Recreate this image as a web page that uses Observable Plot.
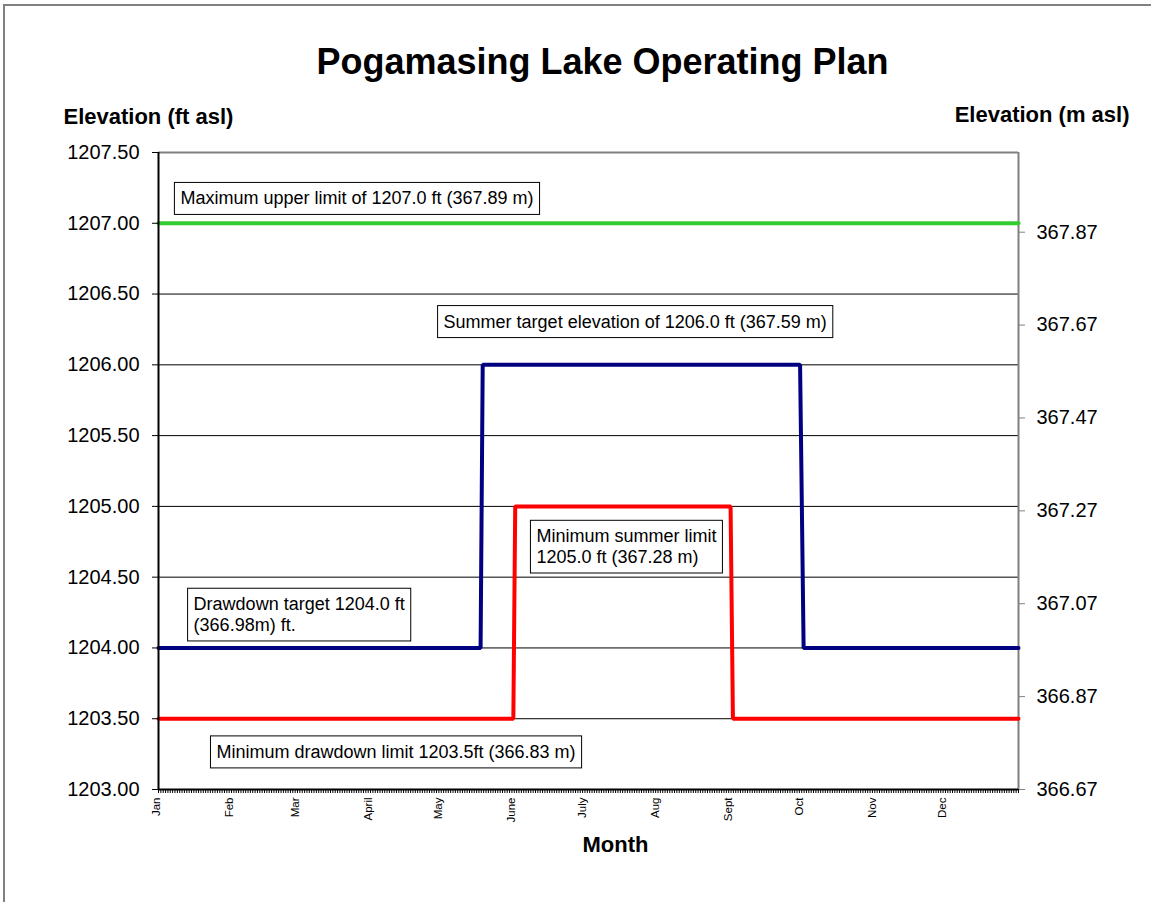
<!DOCTYPE html>
<html>
<head>
<meta charset="utf-8">
<script src="https://cdn.jsdelivr.net/npm/d3@7"></script>
<script src="https://cdn.jsdelivr.net/npm/@observablehq/plot@0.6"></script>
<style>
  body { margin: 0; background: #fff; font-family: "Liberation Sans", Arial, sans-serif; }
  #wrap { position: relative; width: 1151px; height: 902px; overflow: hidden; background: #fff; }
  #border { position: absolute; left: 3px; top: 4px; width: 1300px; height: 1100px;
            border-left: 2px solid #808080; border-top: 2px solid #808080; }
  #wrap svg { position: absolute; left: 0; top: 0; }
</style>
</head>
<body>
<div id="wrap"><div id="border"></div></div>
<script>
// ---------- data ----------
const titleText = "Pogamasing Lake Operating Plan";
const leftAxisTitle = "Elevation (ft asl)";
const rightAxisTitle = "Elevation (m asl)";
const xAxisTitle = "Month";

const months = ["Jan","Feb","Mar","April","May","June","July","Aug","Sept","Oct","Nov","Dec"];
const monthStartDays = [0, 31, 59, 90, 120, 151, 181, 212, 243, 273, 304, 334];

const leftTicks = [1203.0, 1203.5, 1204.0, 1204.5, 1205.0, 1205.5, 1206.0, 1206.5, 1207.0, 1207.5];
const rightTickLabels = ["366.67", "366.87", "367.07", "367.27", "367.47", "367.67", "367.87"];

// Maximum upper limit (green)
const upperDays = [0, 365];
const upperVals = [1207.0, 1207.0];
// Summer target / drawdown target (navy)
const targetDays = [0, 136.7, 137.6, 272.3, 273.8, 365];
const targetVals = [1204.0, 1204.0, 1206.0, 1206.0, 1204.0, 1204.0];
// Minimum limits (red)
const minDays = [0, 150.6, 151.4, 242.8, 243.8, 365];
const minVals = [1203.5, 1203.5, 1205.0, 1205.0, 1203.5, 1203.5];

// annotation boxes
const noteTexts = [
  "Maximum upper limit of 1207.0 ft (367.89 m)",
  "Summer target elevation of 1206.0 ft (367.59 m)",
  "Minimum summer limit\n1205.0 ft (367.28 m)",
  "Drawdown target 1204.0 ft\n(366.98m) ft.",
  "Minimum drawdown limit 1203.5ft (366.83 m)"
];
const noteDays = [9.3, 121.0, 160.4, 14.9, 24.6];
const noteElev = [1207.18, 1206.31, 1204.72, 1204.24, 1203.27];

// ---------- derived tables ----------
const monthRows = months.map((m, i) => ({label: m, day: monthStartDays[i]}));
const rightTickFt = rightTickLabels.map(s => 1203 + (+s - 366.67) / 0.3048);
const notes = noteTexts.map((t, i) => ({text: t, day: noteDays[i], elev: noteElev[i]}));
const dayTicks = d3.range(0, 366);

const FONT = "Liberation Sans, Arial, sans-serif";

const chart = Plot.plot({
  width: 1151,
  height: 902,
  marginLeft: 158,
  marginRight: 133,
  marginTop: 152,
  marginBottom: 113,
  style: {fontFamily: FONT, background: "transparent", overflow: "visible", color: "#000"},
  x: {domain: [0, 365]},
  y: {domain: [1203, 1207.5]},
  marks: [
    // gridlines
    Plot.ruleY(leftTicks.slice(1, -1), {stroke: "#000", strokeWidth: 1}),
    // frame top/right (gray)
    Plot.ruleY([1207.5], {stroke: "#808080", strokeWidth: 2}),
    Plot.ruleX([365], {stroke: "#808080", strokeWidth: 2}),
    // series
    Plot.line(upperDays, {x: d => d, y: (d, i) => upperVals[i], stroke: "#33CC33", strokeWidth: 4}),
    Plot.line(minDays, {x: d => d, y: (d, i) => minVals[i], stroke: "#FF0000", strokeWidth: 4, strokeLinejoin: "miter"}),
    Plot.line(targetDays, {x: d => d, y: (d, i) => targetVals[i], stroke: "#000080", strokeWidth: 4, strokeLinejoin: "miter"}),
    // left & bottom axis lines
    Plot.ruleX([0], {stroke: "#000", strokeWidth: 2}),
    Plot.ruleY([1203], {stroke: "#000", strokeWidth: 2}),
    // left axis
    Plot.axisY(leftTicks, {anchor: "left", tickSize: 6, tickPadding: 13, fontSize: 20,
      tickFormat: d => d.toFixed(2), label: null, stroke: "#000"}),
    // right axis (metres)
    Plot.axisY(rightTickFt, {anchor: "right", tickSize: 6, tickPadding: 12, fontSize: 20,
      tickFormat: d => rightTickLabels[rightTickFt.indexOf(d)], label: null, stroke: "#808080", fill: "#000"}),
    // daily minor ticks on x axis
    Plot.axisX(dayTicks, {anchor: "bottom", tickSize: 4, tickFormat: () => "", label: null, stroke: "#000"}),
    // month labels
    Plot.text(monthRows, {x: "day", text: "label", frameAnchor: "bottom", rotate: -90,
      textAnchor: "end", dy: 8, dx: 1, fontSize: 11.5}),
    // annotations
    Plot.text(notes, {x: "day", y: "elev", text: "text", textAnchor: "start", lineAnchor: "middle",
      fontSize: 18, lineHeight: 1.15}),
    // titles
    Plot.text([titleText], {frameAnchor: "top", dx: 14, dy: -104, fontSize: 36, fontWeight: "bold"}),
    Plot.text([leftAxisTitle], {frameAnchor: "top-left", dx: -95, dy: -44, textAnchor: "start", fontSize: 22, fontWeight: "bold"}),
    Plot.text([rightAxisTitle], {frameAnchor: "top-right", dx: 111, dy: -46, textAnchor: "end", fontSize: 22, fontWeight: "bold"}),
    Plot.text([xAxisTitle], {frameAnchor: "bottom", dx: 27, dy: 62, fontSize: 22, fontWeight: "bold"})
  ]
});

document.getElementById("wrap").appendChild(chart);

// boxes behind annotation texts
const padX = 6, padY = 6;
const firstLines = noteTexts.map(t => t.split("\n")[0]);
chart.querySelectorAll("text").forEach(function(el) {
  const first = el.querySelector("tspan") ? el.querySelector("tspan").textContent : el.textContent;
  if (!firstLines.includes(first) && !firstLines.some(f => el.textContent.startsWith(f))) return;
  const bb = el.getBBox();
  const r = document.createElementNS("http://www.w3.org/2000/svg", "rect");
  r.setAttribute("x", bb.x - padX);
  r.setAttribute("y", bb.y - padY);
  r.setAttribute("width", bb.width + 2 * padX);
  r.setAttribute("height", bb.height + 2 * padY);
  r.setAttribute("fill", "#fff");
  r.setAttribute("stroke", "#000");
  r.setAttribute("stroke-width", 1);
  const tr = el.getAttribute("transform");
  if (tr) r.setAttribute("transform", tr);
  el.parentNode.insertBefore(r, el);
});
</script>
</body>
</html>
